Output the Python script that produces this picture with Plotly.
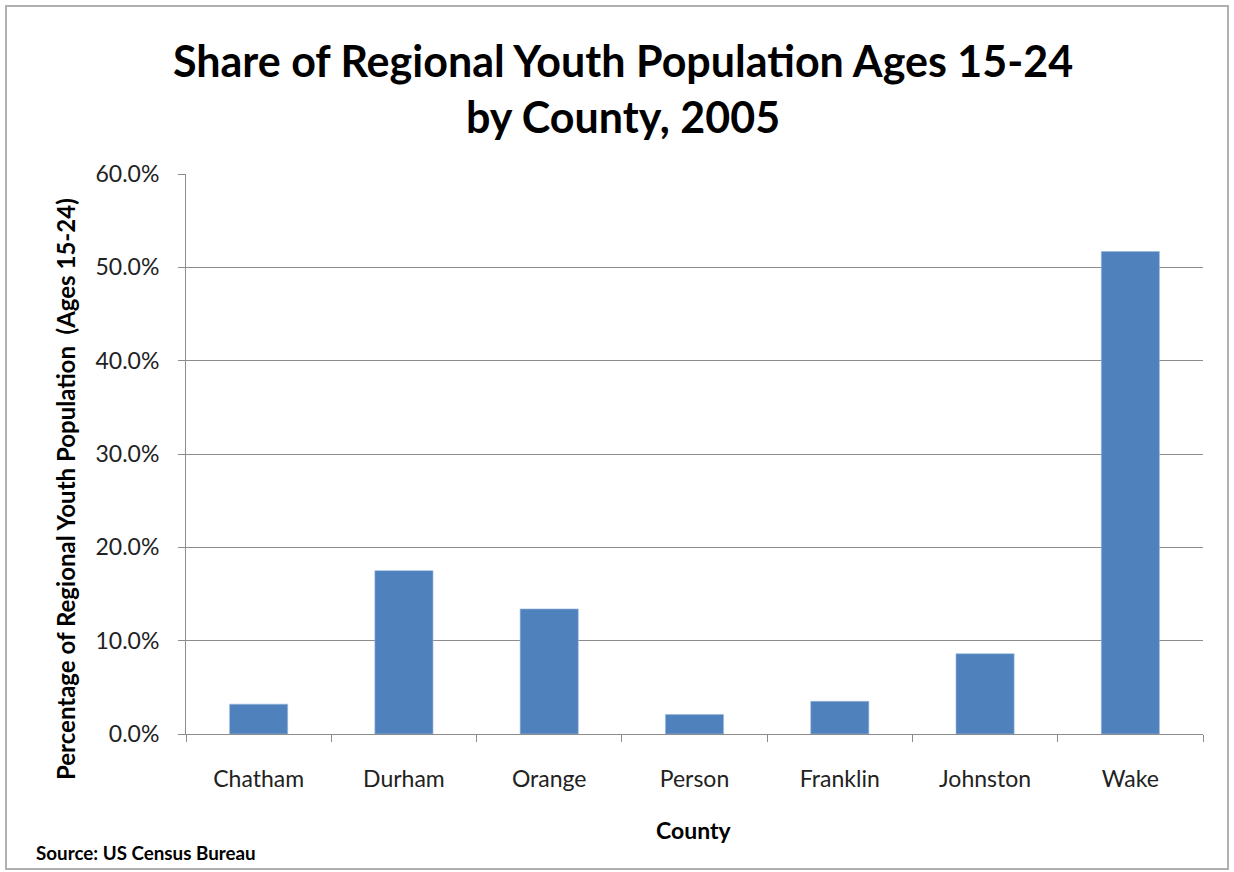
import plotly.graph_objects as go

# County shares of the regional youth population (ages 15-24), 2005
counties = ["Chatham", "Durham", "Orange", "Person", "Franklin", "Johnston", "Wake"]
share_pct = [3.2, 17.5, 13.4, 2.1, 3.5, 8.6, 51.7]
y_ticks = [0, 10, 20, 30, 40, 50, 60]
y_tick_labels = ["0.0%", "10.0%", "20.0%", "30.0%", "40.0%", "50.0%", "60.0%"]

W, H = 1234, 872
L, R, T, B = 186, 31, 174, 138
PW, PH = W - L - R, H - T - B


def px_x(x):
    return (x - L) / PW


def px_y(y):
    return (H - B - y) / PH


TITLE_FONT = "Lato, Open Sans, sans-serif"
TICK_FONT = "Lato, Open Sans, sans-serif"
GRID = "#8c8c8c"

fig = go.Figure(
    go.Bar(
        x=counties,
        y=share_pct,
        marker=dict(color="#4F81BD", line=dict(color="#9bb8dc", width=0.6)),
        width=0.4,
    )
)

fig.update_layout(
    width=W,
    height=H,
    margin=dict(l=L, r=R, t=T, b=B),
    paper_bgcolor="white",
    plot_bgcolor="white",
    showlegend=False,
    bargap=0.6,
)

fig.update_xaxes(
    type="category",
    showgrid=False,
    showline=True,
    linecolor=GRID,
    linewidth=1,
    ticks="outside",
    tickson="boundaries",
    ticklen=7,
    tickcolor=GRID,
    tickfont=dict(family=TICK_FONT, size=23, color="#222222"),
    ticklabelstandoff=24,
)

fig.update_yaxes(
    range=[0, 60],
    tickvals=y_ticks,
    ticktext=y_tick_labels,
    showgrid=True,
    gridcolor=GRID,
    gridwidth=1,
    showline=True,
    linecolor=GRID,
    linewidth=1,
    ticks="outside",
    ticklen=7,
    tickcolor=GRID,
    tickfont=dict(family=TICK_FONT, size=23, color="#222222"),
    ticklabelstandoff=14,
    zeroline=False,
)

annotations = [
    dict(
        text="Share of Regional Youth Population Ages 15-24",
        x=px_x(623), y=px_y(60), xref="paper", yref="paper",
        xanchor="center", yanchor="middle", showarrow=False,
        font=dict(family=TITLE_FONT, size=43, color="black", weight="bold"),
    ),
    dict(
        text="by County, 2005",
        x=px_x(623), y=px_y(117), xref="paper", yref="paper",
        xanchor="center", yanchor="middle", showarrow=False,
        font=dict(family=TITLE_FONT, size=43, color="black", weight="bold"),
    ),
    dict(
        text="Percentage of Regional Youth Population  (Ages 15-24)",
        x=px_x(65), y=px_y(489), xref="paper", yref="paper",
        xanchor="center", yanchor="middle", showarrow=False, textangle=-90,
        font=dict(family=TITLE_FONT, size=24, color="black", weight="bold"),
    ),
    dict(
        text="County",
        x=px_x(694), y=px_y(830), xref="paper", yref="paper",
        xanchor="center", yanchor="middle", showarrow=False,
        font=dict(family=TITLE_FONT, size=23, color="black", weight="bold"),
    ),
    dict(
        text="Source: US Census Bureau",
        x=px_x(34), y=px_y(852), xref="paper", yref="paper",
        xanchor="left", yanchor="middle", showarrow=False,
        font=dict(family=TITLE_FONT, size=18.8, color="black", weight="bold"),
    ),
]
fig.update_layout(annotations=annotations)

# Outer chart frame
fig.add_shape(
    type="rect", xref="paper", yref="paper",
    x0=px_x(6), x1=px_x(1228), y0=px_y(869), y1=px_y(6),
    line=dict(color="#b0b0b0", width=2), fillcolor="rgba(0,0,0,0)", layer="below",
)

fig.write_html("out.html")
